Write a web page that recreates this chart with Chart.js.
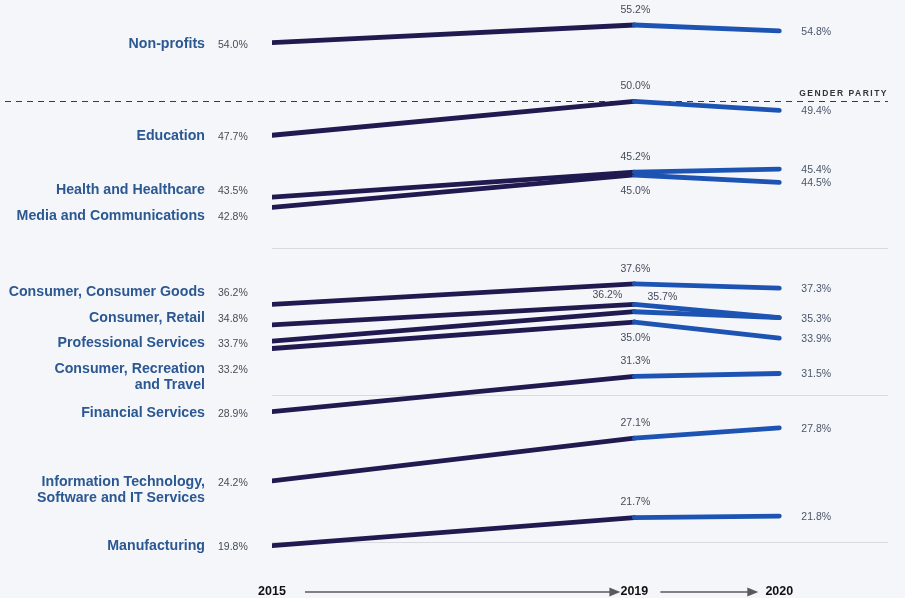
<!DOCTYPE html>
<html>
<head>
<meta charset="utf-8">
<script src="https://cdn.jsdelivr.net/npm/chart.js@4"></script>
<style>
  html, body { margin: 0; padding: 0; background: #f5f6fa; }
  #wrap { width: 905px; height: 598px; }
</style>
</head>
<body>
<div id="wrap"><canvas id="slope"></canvas></div>
<script>
var industries = ['Non-profits', 'Education', 'Health and Healthcare', 'Media and Communications',
  'Consumer, Consumer Goods', 'Consumer, Retail', 'Professional Services',
  ['Consumer, Recreation', 'and Travel'], 'Financial Services',
  ['Information Technology,', 'Software and IT Services'], 'Manufacturing'];
var share2015 = [54.0, 47.7, 43.5, 42.8, 36.2, 34.8, 33.7, 33.2, 28.9, 24.2, 19.8];
var share2019 = [55.2, 50.0, 45.2, 45.0, 37.6, 36.2, 35.7, 35.0, 31.3, 27.1, 21.7];
var share2020 = [54.8, 49.4, 45.4, 44.5, 37.3, 35.3, 35.3, 33.9, 31.5, 27.8, 21.8];
var years = ['2015', '2019', '2020'];
var yearSlots = [0, 5, 7];      // the timeline in the original is not evenly spaced
var gridValues = [20, 30, 40];
var parity = 50;
// where the 2019 value sits next to its point
var place2019 = ['up', 'up', 'up', 'down', 'up', 'upLeft', 'upRight', 'down', 'up', 'up', 'up'];

var dark = '#1f1a4f';
var blue = '#1d53b2';
var labelBlue = '#2b5892';
var numGrey = '#454c58';
var font = '"Liberation Sans", Arial, sans-serif';

var datasets = industries.map(function (name, i) {
  return {
    label: Array.isArray(name) ? name.join(' ') : name,
    data: [
      { x: yearSlots[0], y: share2015[i] },
      { x: yearSlots[1], y: share2019[i] },
      { x: yearSlots[2], y: share2020[i] }
    ],
    borderWidth: 4.8,
    borderCapStyle: 'round',
    borderJoinStyle: 'round',
    pointRadius: 0,
    segment: {
      borderColor: function (c) { return c.p0DataIndex === 0 ? dark : blue; }
    }
  };
});

var fmt = function (v) { return v.toFixed(1) + '%'; };

var decorations = {
  id: 'decorations',
  beforeDatasetsDraw: function (chart) {
    var ctx = chart.ctx, area = chart.chartArea, y = chart.scales.y;
    var py = Math.round(y.getPixelForValue(parity)) + 0.5;
    ctx.save();
    ctx.strokeStyle = '#3a3a44';
    ctx.lineWidth = 1.2;
    ctx.setLineDash([6, 5]);
    ctx.beginPath();
    ctx.moveTo(5, py);
    ctx.lineTo(area.right, py);
    ctx.stroke();
    ctx.setLineDash([]);
    ctx.font = 'bold 8.5px ' + font;
    ctx.letterSpacing = '1.5px';
    ctx.fillStyle = '#33333b';
    ctx.textAlign = 'right';
    ctx.textBaseline = 'middle';
    ctx.fillText('GENDER PARITY', area.right, py - 8);
    ctx.restore();
  },
  afterDatasetsDraw: function (chart) {
    var ctx = chart.ctx;
    var xs = chart.scales.x, ys = chart.scales.y;
    ctx.save();
    ctx.textBaseline = 'middle';

    // left labels: spread out the ones that would collide
    var gap = 25.5;
    var items = share2015.map(function (v, i) { return { i: i, y: ys.getPixelForValue(v) }; });
    items.sort(function (a, b) { return a.y - b.y; });
    var clusters = [], cur = [items[0]];
    for (var k = 1; k < items.length; k++) {
      if (items[k].y - items[k - 1].y < gap) cur.push(items[k]);
      else { clusters.push(cur); cur = [items[k]]; }
    }
    clusters.push(cur);
    clusters.forEach(function (cl) {
      var mean = cl.reduce(function (s, it) { return s + it.y; }, 0) / cl.length;
      cl.forEach(function (it, j) { it.ly = mean + (j - (cl.length - 1) / 2) * gap; });
    });
    var x0 = xs.getPixelForValue(yearSlots[0]);
    items.forEach(function (it) {
      var name = industries[it.i];
      var lines = Array.isArray(name) ? name : [name];
      ctx.font = 'bold 14.2px ' + font;
      ctx.fillStyle = labelBlue;
      ctx.textAlign = 'right';
      lines.forEach(function (t, j) { ctx.fillText(t, x0 - 67, it.ly + 1 + j * 16); });
      ctx.font = '10.5px ' + font;
      ctx.fillStyle = numGrey;
      ctx.textAlign = 'left';
      ctx.fillText(fmt(share2015[it.i]), x0 - 54, it.ly + 2);
    });

    // 2019 values
    var x1 = xs.getPixelForValue(yearSlots[1]);
    ctx.font = '10.5px ' + font;
    ctx.fillStyle = numGrey;
    ctx.textAlign = 'center';
    share2019.forEach(function (v, i) {
      var py = ys.getPixelForValue(v), tx = x1 + 1, ty = py - 15;
      if (place2019[i] === 'down') ty = py + 16;
      if (place2019[i] === 'upLeft') { tx = x1 - 27; ty = py - 9; }
      if (place2019[i] === 'upRight') { tx = x1 + 28; ty = py - 15; }
      ctx.fillText(fmt(v), tx, ty);
    });

    // 2020 values (lines ending on the same value share one label)
    var x2 = xs.getPixelForValue(yearSlots[2]);
    ctx.textAlign = 'left';
    ctx.fillStyle = '#4a5669';
    share2020.forEach(function (v, i) {
      if (share2020.indexOf(v) !== i) return;
      ctx.fillText(fmt(v), x2 + 22, ys.getPixelForValue(v) + 1);
    });

    // arrows between the years
    var ay = 592;
    var starts = [33, 26], ends = [14, 21];
    ctx.strokeStyle = '#5a5a5e';
    ctx.fillStyle = '#5a5a5e';
    ctx.lineWidth = 1.6;
    for (var s = 0; s < yearSlots.length - 1; s++) {
      var a = xs.getPixelForValue(yearSlots[s]) + starts[s];
      var b = xs.getPixelForValue(yearSlots[s + 1]) - ends[s];
      ctx.beginPath();
      ctx.moveTo(a, ay);
      ctx.lineTo(b - 9, ay);
      ctx.stroke();
      ctx.beginPath();
      ctx.moveTo(b, ay);
      ctx.lineTo(b - 11, ay - 4.5);
      ctx.lineTo(b - 11, ay + 4.5);
      ctx.closePath();
      ctx.fill();
    }
    ctx.restore();
  }
};

new Chart(document.getElementById('slope'), {
  type: 'line',
  data: { datasets: datasets },
  options: {
    responsive: true,
    maintainAspectRatio: false,
    animation: false,
    layout: { padding: { left: 272, right: 17, top: 0, bottom: 1 } },
    plugins: { legend: { display: false }, tooltip: { enabled: false } },
    scales: {
      x: {
        type: 'linear',
        min: 0,
        max: 8.5,
        afterBuildTicks: function (scale) {
          scale.ticks = yearSlots.map(function (v) { return { value: v }; });
        },
        afterFit: function (scale) { scale.height = 25; },
        ticks: {
          autoSkip: false,
          maxRotation: 0,
          padding: 12,
          color: '#111',
          font: { family: font, size: 12.5, weight: 'bold' },
          callback: function (v) { return years[yearSlots.indexOf(v)]; }
        },
        grid: { display: false, drawTicks: false },
        border: { display: false }
      },
      y: {
        min: 18,
        max: 56.9,
        afterBuildTicks: function (scale) {
          scale.ticks = gridValues.map(function (v) { return { value: v }; });
        },
        ticks: { display: false },
        grid: { color: '#d9dae0', lineWidth: 1, drawTicks: false },
        border: { display: false }
      }
    }
  },
  plugins: [decorations]
});
</script>
</body>
</html>
